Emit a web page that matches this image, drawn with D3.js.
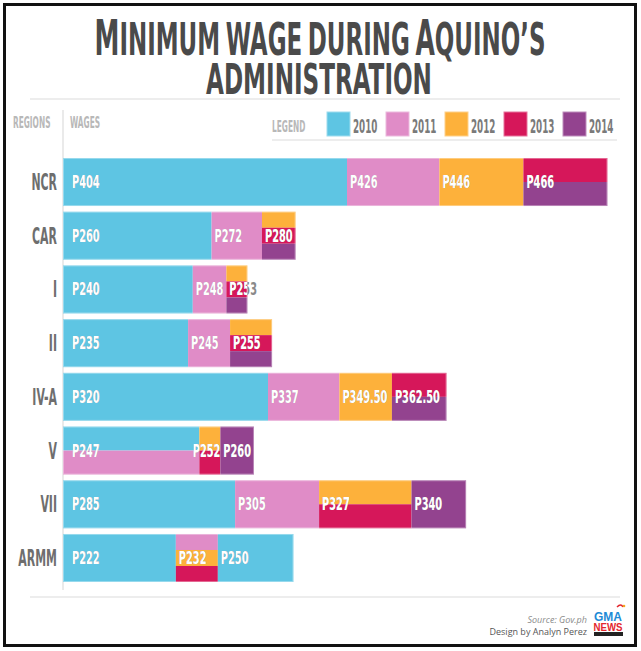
<!DOCTYPE html>
<html><head><meta charset="utf-8">
<script src="https://cdn.jsdelivr.net/npm/d3@7"></script>
<style>body{margin:0;background:#fff}svg{display:block}</style>
</head><body><svg id="c" width="641" height="651"></svg>
<script>
// ---- data ----
const regions = ["NCR", "CAR", "I", "II", "IV-A", "V", "VII", "ARMM"];
const years = ["2010", "2011", "2012", "2013", "2014"];
const wages2010 = [404, 260, 240, 235, 320, 247, 285, 222];
const wages2011 = [426, 272, 248, 245, 337, 247, 305, 232];
const wages2012 = [446, 280, 253, 255, 349.5, 252, 327, 232];
const wages2013 = [466, 280, 253, 255, 362.5, 252, 327, 232];
const wages2014 = [466, 280, 253, 255, 362.5, 260, 340, 250];
const yearColors = ["#5ec5e3", "#e08cc7", "#fdb13b", "#d6175a", "#93438f"];
// the reference paints ARMM's 2014 step in the 2010 colour
const colorAs = {"ARMM|2014": "2010"};

const wagesByYear = {"2010": wages2010, "2011": wages2011, "2012": wages2012, "2013": wages2013, "2014": wages2014};

const svg = d3.select("#c");
const FONT = "'DejaVu Sans Condensed', 'DejaVu Sans', sans-serif";
const color = d3.scaleOrdinal().domain(years).range(yearColors);

// frame
svg.append("rect").attr("x", 4.5).attr("y", 4.5).attr("width", 631).attr("height", 641)
  .attr("fill", "#fff").attr("stroke", "#111").attr("stroke-width", 3);

// compressed text helper
function ctext(parent, x, y, str, size, sx, fill, anchor) {
  return parent.append("text")
    .attr("transform", `translate(${x},${y}) scale(${sx},1)`)
    .attr("text-anchor", anchor || "start")
    .attr("font-family", FONT).attr("font-weight", "bold")
    .attr("font-size", size).attr("fill", fill).text(str);
}

// title: small-caps pieces fitted to a given width
function titleLine(pieces, cx, y, width, fill) {
  const gapW = 0.22; // space width in em of the small size
  const measured = pieces.map(([s, f, gap]) => {
    const t = ctext(svg, 0, 0, s, f, 1, "none");
    const w = t.node().getComputedTextLength();
    t.remove();
    return {s, f, gap, w};
  });
  const total = d3.sum(measured, m => m.w + (m.gap ? m.f * gapW : 0));
  const sx = width / total;
  let x = cx - width / 2;
  measured.forEach(m => {
    ctext(svg, x, y, m.s, m.f, sx, fill);
    x += (m.w + (m.gap ? m.f * gapW : 0)) * sx;
  });
}
titleLine([["M", 49, false], ["INIMUM", 45, true], ["WAGE", 45, true], ["DURING", 45, true],
           ["A", 49, false], ["QUINO\u2019S", 45, false]], 320, 55, 451, "#4a4a4a");
titleLine([["ADMINISTRATION", 43, false]], 319, 94, 226, "#4a4a4a");

// rules
const rule = (x1, y1, x2, y2) => svg.append("line").attr("x1", x1).attr("y1", y1).attr("x2", x2).attr("y2", y2)
  .attr("stroke", "#dcdcdc").attr("stroke-width", 1.2);
rule(30, 99, 620, 99);
rule(63, 110, 63, 590);
rule(272, 140, 617, 140);
rule(30, 597, 620, 597);

// headers
ctext(svg, 13, 128, "REGIONS", 15, 0.55, "#b8b8b8");
ctext(svg, 70, 128, "WAGES", 15, 0.55, "#b8b8b8");
ctext(svg, 272, 132, "LEGEND", 15, 0.55, "#b8b8b8");

// legend
const lx = d3.scalePoint().domain(years).range([327, 563]);
years.forEach(y => {
  svg.append("rect").attr("x", lx(y)).attr("y", 112).attr("width", 23).attr("height", 24)
    .attr("fill", color(y)).attr("stroke", d3.interpolateRgb(color(y), "#fff")(0.4)).attr("stroke-width", 1);
  ctext(svg, lx(y) + 26, 133, y, 19.5, 0.5, "#7a7a7a");
});

// scales
const yBand = d3.scaleBand().domain(regions).range([158, 582]).paddingInner(0.106).paddingOuter(0);
const xBase = d3.scaleLinear().domain([102, 404]).range([63, 347]);
const xInc = d3.scaleLinear().domain([0, 10]).range([0, 42]);

const fmt = v => "P" + (v % 1 ? v.toFixed(2) : v);

regions.forEach((r, ri) => {
  const vals = years.map(y => wagesByYear[y][ri]);
  const segs = [];
  let prev = null;
  vals.forEach((v, i) => {
    if (prev !== null && v === prev) segs[segs.length - 1].yrs.push(years[i]);
    else segs.push({value: v, from: prev, yrs: [years[i]]});
    prev = v;
  });
  let cur = xBase.range()[0];
  segs.forEach((s, k) => {
    s.x0 = cur;
    s.x1 = k === 0 ? xBase(s.value) : cur + xInc(s.value - s.from);
    cur = s.x1;
  });
  const y0 = yBand(r), bw = yBand.bandwidth(), cy = y0 + bw / 2;
  const g = svg.append("g");

  segs.forEach(s => {
    const sub = d3.scaleBand().domain(s.yrs).range([y0, y0 + bw]);
    s.yrs.forEach(y => {
      const c = color(colorAs[r + "|" + y] || y);
      g.append("rect").attr("x", s.x0).attr("y", sub(y)).attr("width", s.x1 - s.x0).attr("height", sub.bandwidth())
        .attr("fill", c);
    });
  });
  g.append("rect").attr("x", segs[0].x0 + 0.5).attr("y", y0 + 0.5).attr("width", cur - segs[0].x0 - 1).attr("height", bw - 1)
    .attr("fill", "none").attr("stroke", "#ffffff").attr("stroke-opacity", 0.35).attr("stroke-width", 1);

  const cid = "clip" + ri;
  svg.append("clipPath").attr("id", cid).append("rect")
    .attr("x", segs[0].x0).attr("y", y0).attr("width", cur - segs[0].x0).attr("height", bw);
  const gray = svg.append("g");
  const white = svg.append("g").attr("clip-path", `url(#${cid})`);
  const SX = 0.64, FS = 17;
  segs.forEach((s, k) => {
    const label = fmt(s.value);
    let lxp = k === 0 ? s.x0 + 9 : s.x0 + 3;
    let anchor = "start";
    const tmp = ctext(svg, 0, 0, label, FS, SX, "none");
    const w = tmp.node().getComputedTextLength() * SX;
    tmp.remove();
    if (k < segs.length - 1 && w > s.x1 - s.x0 - 3) { lxp = s.x1; anchor = "end"; }
    ctext(gray, lxp, cy + 6, label, FS, SX, "#8a8a8a", anchor);
    ctext(white, lxp, cy + 6, label, FS, SX, "#ffffff", anchor);
  });

  ctext(svg, 57, cy + 8, r, 22.5, 0.54, "#6e6e6e", "end");
});

// credits
svg.append("text").attr("x", 587).attr("y", 623).attr("text-anchor", "end")
  .attr("font-family", "'Open Sans', sans-serif").attr("font-style", "italic").attr("font-size", 9)
  .attr("fill", "#8a8a8a").text("Source: Gov.ph");
svg.append("text").attr("x", 587).attr("y", 635).attr("text-anchor", "end")
  .attr("font-family", "'Open Sans', sans-serif").attr("font-size", 9)
  .attr("fill", "#555").text("Design by Analyn Perez");
// logo
svg.append("text").attr("x", 608).attr("y", 621).attr("text-anchor", "middle")
  .attr("font-family", "'Liberation Sans', Arial, sans-serif").attr("font-weight", "bold").attr("font-size", 13)
  .attr("textLength", 28).attr("lengthAdjust", "spacingAndGlyphs").attr("fill", "#1e8ad6").text("GMA");
svg.append("text").attr("x", 608).attr("y", 631).attr("text-anchor", "middle")
  .attr("font-family", "'Liberation Sans', Arial, sans-serif").attr("font-weight", "bold").attr("font-size", 11)
  .attr("textLength", 29).attr("lengthAdjust", "spacingAndGlyphs").attr("fill", "#e3262d").text("NEWS");
svg.append("rect").attr("x", 594).attr("y", 632).attr("width", 29).attr("height", 4).attr("fill", "#222");
svg.append("path").attr("d", "M617,607 q4,-4 6,0").attr("fill", "none").attr("stroke", "#e3262d").attr("stroke-width", 1.5);
svg.append("circle").attr("cx", 624).attr("cy", 606).attr("r", 1.3).attr("fill", "#f2a51f");
</script></body></html>
